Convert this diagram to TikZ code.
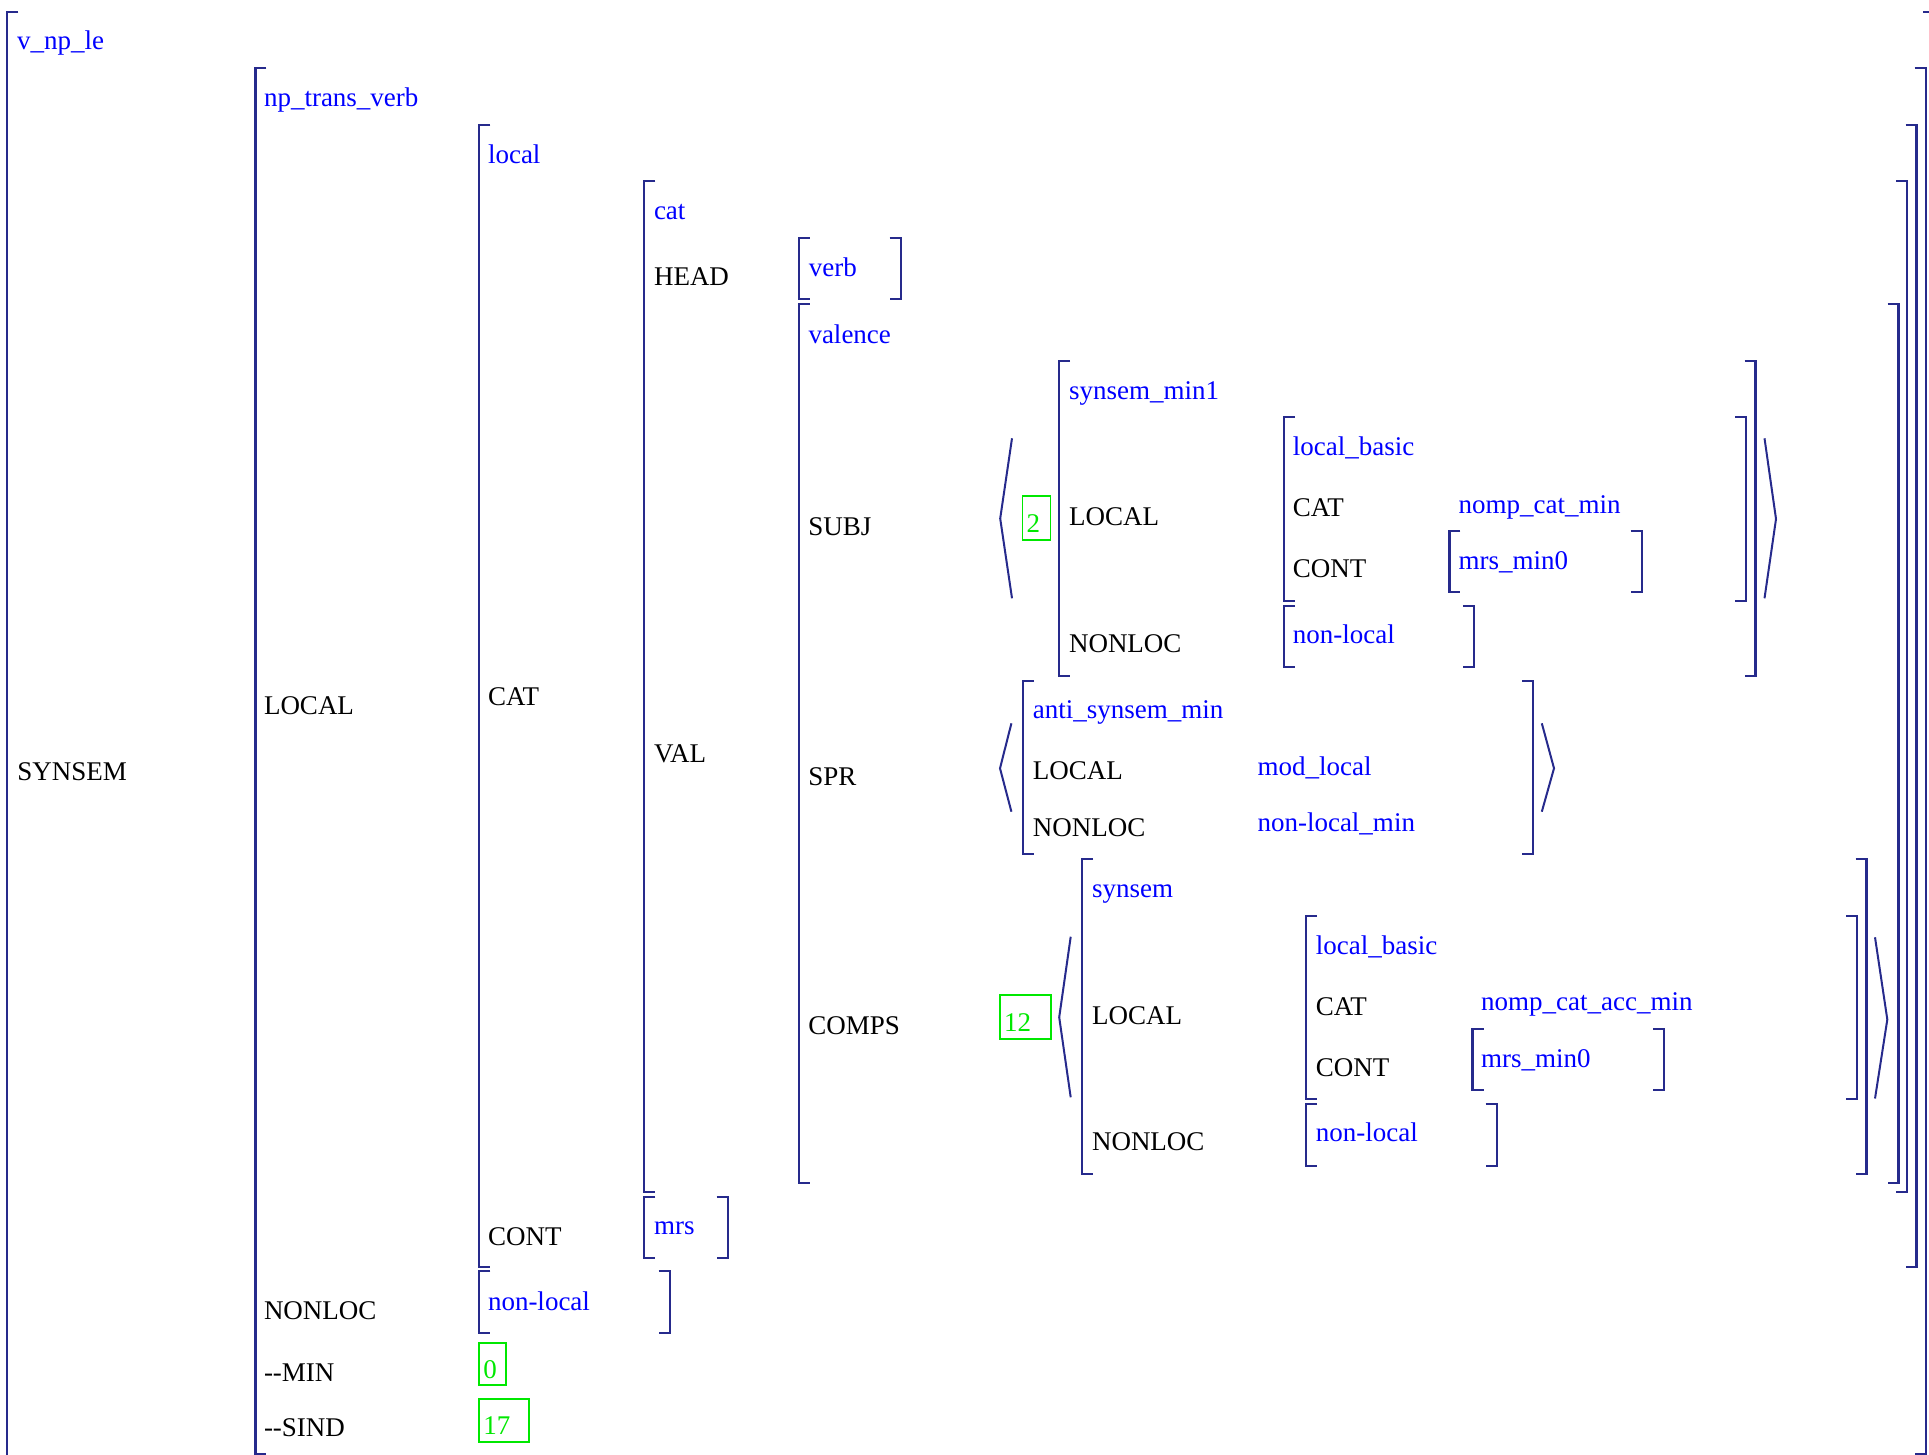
\documentclass[tikz,border=0pt]{standalone}
\usepackage{fontspec}
\setmainfont{Liberation Serif}
\definecolor{brkcol}{RGB}{38,42,140}
\definecolor{tycol}{RGB}{0,0,255}
\definecolor{tagcol}{RGB}{0,232,0}
\newcommand{\FSlb}[3]{\draw[brk] (#1+11,#2) -- (#1,#2) -- (#1,#3) -- (#1+11,#3);}
\newcommand{\FSrb}[3]{\draw[brk] (#1-11,#2) -- (#1,#2) -- (#1,#3) -- (#1-11,#3);}
\begin{document}
\begin{tikzpicture}[x=1pt,y=-1pt,
  every node/.style={font=\fontsize{27}{32}\selectfont},
  feat/.style={anchor=base west, inner sep=0pt, outer sep=0pt, text=black},
  typ/.style={anchor=base west, inner sep=0pt, outer sep=0pt, text=tycol},
  brk/.style={draw=brkcol, line width=2.2pt},
  ang/.style={draw=brkcol, line width=2pt},
  tagbox/.style={draw=tagcol, text=tagcol, line width=1.8pt, anchor=base west,
    inner xsep=4pt, inner ysep=0pt, outer sep=0pt, align=left}
]
\useasboundingbox (0,0) rectangle (1929,1455);
\clip (0,0) rectangle (1929,1455);

% ---------- level 0: v_np_le ----------
\draw[brk] (18.3,11.7) -- (7.3,11.7) -- (7.3,1470);
\draw[brk] (1923,11.7) -- (1934,11.7) -- (1934,1470);
\node[typ]  (t0)   at (17,50)   {v\_np\_le};
\node[feat] (fsyn) at (17.3,780) {SYNSEM};

% ---------- level 1: np_trans_verb ----------
\FSlb{255.4}{68.3}{1454}
\FSrb{1925.7}{68.3}{1454}
\node[typ]  (t1)    at (264,107)   {np\_trans\_verb};
\node[feat] (floc1) at (264,714)   {LOCAL};
\node[feat] (fnl1)  at (264,1319)  {NONLOC};
\node[feat] (fmin)  at (264,1381)  {-{}-MIN};
\node[feat] (fsind) at (264,1436)  {-{}-SIND};

% ---------- level 2: local ----------
\FSlb{479.3}{124.8}{1266.7}
\FSrb{1916.5}{124.8}{1266.7}
\node[typ]  (t2)    at (488,163.3) {local};
\node[feat] (fcat2) at (488,705)   {CAT};
\node[feat] (fcont2) at (488,1245) {CONT};
% non-local
\FSlb{479.3}{1271}{1332.7}
\FSrb{669.6}{1271}{1332.7}
\node[typ]  (tnl2)  at (488,1310)  {non-local};
% tags 0 and 17
\node[tagbox, text width=18.5pt, text height=35.3pt, text depth=7pt] (tag0) at (479.3,1378) {0};
\node[tagbox, text width=41.7pt, text height=35pt, text depth=7.7pt] (tag17) at (479.3,1434) {17};

% ---------- level 3: cat ----------
\FSlb{644.3}{181.3}{1192.3}
\FSrb{1907.2}{181.3}{1192.3}
\node[typ]  (t3)    at (654,220)   {cat};
\node[feat] (fhead) at (654,285.3) {HEAD};
\node[feat] (fval)  at (654,762)   {VAL};
% mrs
\FSlb{644.3}{1197.3}{1258.3}
\FSrb{727.7}{1197.3}{1258.3}
\node[typ]  (tmrs)  at (654,1234.5) {mrs};

% ---------- level 4: verb / valence ----------
\FSlb{798.8}{237.7}{299.3}
\FSrb{900.7}{237.7}{299.3}
\node[typ]  (tverb) at (808.8,276.7) {verb};
\FSlb{798.8}{304}{1182.8}
\FSrb{1898.5}{304}{1182.8}
\node[typ]  (tval)  at (808.5,343.3) {valence};
\node[feat] (fsubj) at (808.3,535)   {SUBJ};
\node[feat] (fspr)  at (808.3,785)   {SPR};
\node[feat] (fcomps) at (808.3,1034) {COMPS};

% ---------- SUBJ ----------
\draw[ang] (1012,438.3) -- (1000.2,518.5) -- (1012,598.3);
\draw[ang] (1764.5,438.3) -- (1776,519) -- (1764.5,598.3);
\node[tagbox, text width=20pt, text height=36.3pt, text depth=7.7pt] (tag2) at (1022.5,532.3) {2};
\FSlb{1059}{360.7}{675.7}
\FSrb{1755.5}{360.7}{675.7}
\node[typ]  (tsm1)  at (1069,399.3) {synsem\_min1};
\node[feat] (fsloc) at (1069,525.7) {LOCAL};
\node[feat] (fsnl)  at (1069,652.3) {NONLOC};
\FSlb{1284}{417.3}{600.7}
\FSrb{1746.3}{417.3}{600.7}
\node[typ]  (tslb)  at (1292.8,455)   {local\_basic};
\node[feat] (fscat) at (1292.8,516.7) {CAT};
\node[feat] (fscont) at (1292.8,577.3) {CONT};
\node[typ]  (tsncm) at (1458.6,513.3) {nomp\_cat\_min};
\FSlb{1449.4}{530.7}{591.7}
\FSrb{1641.7}{530.7}{591.7}
\node[typ]  (tsmrs) at (1458.6,569.3) {mrs\_min0};
\FSlb{1284}{605.7}{666.7}
\FSrb{1473.9}{605.7}{666.7}
\node[typ]  (tsnl)  at (1292.8,643.3) {non-local};

% ---------- SPR ----------
\draw[ang] (1011.4,723.3) -- (1000,768.3) -- (1011.4,811.7);
\draw[ang] (1541.8,723.3) -- (1554,768.3) -- (1541.8,811.7);
\FSlb{1023.2}{680.7}{854}
\FSrb{1533}{680.7}{854}
\node[typ]  (tasm)  at (1032.8,718.3) {anti\_synsem\_min};
\node[feat] (fploc) at (1032.8,779.3) {LOCAL};
\node[feat] (fpnl)  at (1032.8,836)   {NONLOC};
\node[typ]  (tml)   at (1257.5,775)   {mod\_local};
\node[typ]  (tnlm)  at (1257.5,831.7) {non-local\_min};

% ---------- COMPS ----------
\node[tagbox, text width=42.5pt, text height=36.7pt, text depth=7.3pt] (tag12) at (1000.1,1031.7) {12};
\draw[ang] (1070.7,936.7) -- (1059.2,1017.3) -- (1070.7,1097.3);
\draw[ang] (1875,937.3) -- (1887.3,1019.5) -- (1875,1098.5);
\FSlb{1082.2}{859.3}{1174.3}
\FSrb{1866.5}{859.3}{1174.3}
\node[typ]  (tsyn)  at (1092,897.3)  {synsem};
\node[feat] (fcloc) at (1092,1024)   {LOCAL};
\node[feat] (fcnl)  at (1092,1150.7) {NONLOC};
\FSlb{1306}{916}{1099.3}
\FSrb{1857.2}{916}{1099.3}
\node[typ]  (tclb)  at (1315.8,954.3)  {local\_basic};
\node[feat] (fccat) at (1315.8,1015.7) {CAT};
\node[feat] (fccont) at (1315.8,1076.7) {CONT};
\node[typ]  (tcnca) at (1481.1,1010.7) {nomp\_cat\_acc\_min};
\FSlb{1472.5}{1029.3}{1090}
\FSrb{1664.3}{1029.3}{1090}
\node[typ]  (tcmrs) at (1481.1,1067.7) {mrs\_min0};
\FSlb{1306}{1104.3}{1165.7}
\FSrb{1496.7}{1104.3}{1165.7}
\node[typ]  (tcnl)  at (1315.8,1141.7) {non-local};
\end{tikzpicture}
\end{document}
